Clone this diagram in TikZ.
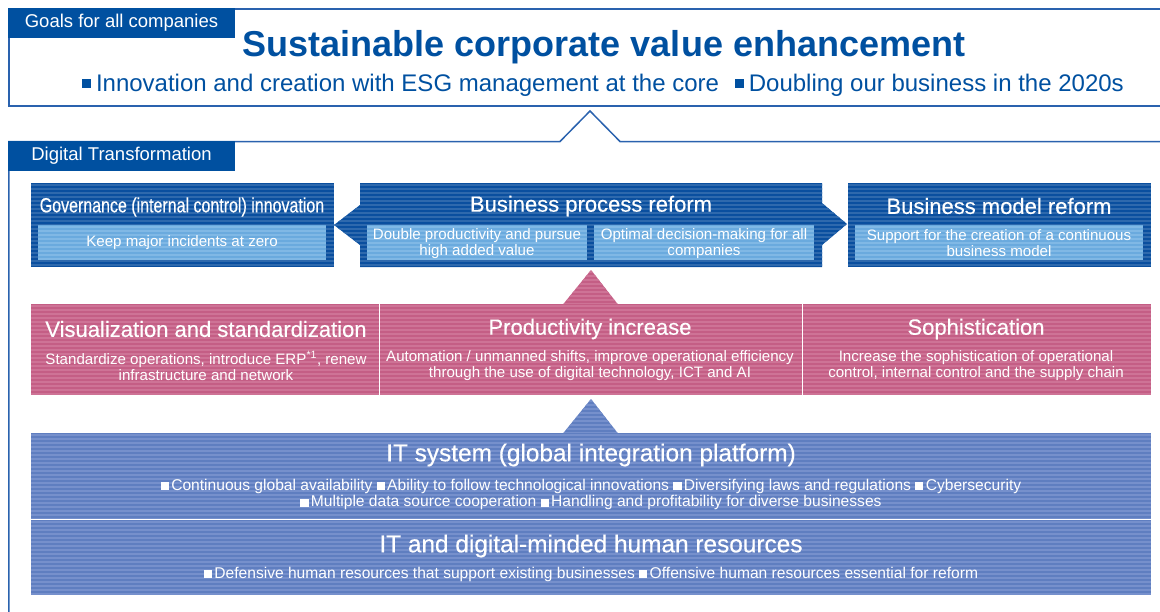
\documentclass[tikz,border=0pt]{standalone}
\usepackage{fontspec}
\setmainfont{Liberation Sans}
\newfontfamily\medfont[FakeBold=0.4]{Liberation Sans}
\usepackage{graphicx}
\definecolor{dkblue}{HTML}{0050A0}
\definecolor{frameblue}{HTML}{2A62AE}
\definecolor{boxblue}{HTML}{0A4F9F}
\definecolor{boxstripe}{HTML}{2E69AD}
\definecolor{ltblue}{HTML}{6AAADE}
\definecolor{ltstripe}{HTML}{80B8E5}
\definecolor{pinkbox}{HTML}{C45E85}
\definecolor{pinkstripe}{HTML}{CE7396}
\definecolor{itblue}{HTML}{5F7EC0}
\definecolor{itstripe}{HTML}{7690CC}
\newcommand\bsq{\rule{0.52em}{0.52em}\hspace{0.15em}}
\newcommand\gsq{\rule[3.5pt]{9pt}{9pt}\hspace{0.2em}}
\tikzset{
  stripes/.style={path picture={
    \foreach \k in {0,...,25}{
      \fill[#1] ([yshift={-(4*\k+1)*1pt}]path picture bounding box.north west)
        rectangle ([yshift={-(4*\k+3)*1pt}]path picture bounding box.north east);
    }}},
  rbox/.style={inner sep=0pt, outer sep=0pt, anchor=north west},
  darkbox/.style={rbox, fill=boxblue, stripes=boxstripe},
  lightbox/.style={rbox, fill=ltblue, stripes=ltstripe},
  pinkband/.style={rbox, fill=pinkbox, stripes=pinkstripe},
  itband/.style={rbox, fill=itblue, stripes=itstripe},
  label/.style={rbox, fill=dkblue, text=white, font=\fontsize{18.5}{22}\selectfont, minimum width=227pt, minimum height=30pt},
  frame/.style={draw=frameblue, line width=1.5pt},
  btitle/.style={text=white, font=\fontsize{22}{26}\medfont, inner sep=0pt},
  stext/.style={text=white, font=\fontsize{15.1}{16}\selectfont, align=center, inner sep=0pt},
  ittitle/.style={text=white, font=\fontsize{24.4}{28}\medfont, inner sep=0pt},
  ittext/.style={text=white, font=\fontsize{15.6}{16.5}\selectfont, align=center, inner sep=0pt},
}
\begin{document}
\begin{tikzpicture}[x=1pt,y=-1pt]
\useasboundingbox (0,0) rectangle (1160,611);
% ---- top frame
\draw[frame] (1162,8.8) -- (8.8,8.8) -- (8.8,106) -- (1162,106);
\node[label] (goals) at (8,8) {Goals for all companies};
\node[text=dkblue, font=\fontsize{36}{40}\bfseries, inner sep=0pt] (title) at (604,47) {Sustainable corporate value enhancement};
\node[text=dkblue, font=\fontsize{24}{28}\selectfont, inner sep=0pt] (goalline) at (603,85)
  {\gsq Innovation and creation with ESG management at the core\hspace{16pt}\gsq Doubling our business in the 2020s};
% ---- DX frame
\coordinate (tipL) at (560,141.5);
\coordinate (tipTop) at (590,111);
\coordinate (tipR) at (620,141.5);
\draw[frame] (1162,141.5) -- (tipR) -- (tipTop) -- (tipL) -- (8.8,141.5) -- (8.8,613);
\node[label] (dx) at (8,141) {Digital Transformation};
% ---- row 1
\node[darkbox, minimum width=303pt, minimum height=84pt] (gov) at (31,183) {};
\node[lightbox, minimum width=288pt, minimum height=35pt] (govsub) at (38,225) {};
\node[btitle, font=\fontsize{20.5}{24}\medfont] (govt) at (182,207) {\scalebox{0.78}[1]{Governance (internal control) innovation}};
\node[stext] (govs) at (182,243) {Keep major incidents at zero};

\path[fill=boxblue, stripes=boxstripe] (360,183) -- (822,183) -- (822,203) -- (847,224) -- (822,245) -- (822,267) -- (360,267) -- (360,245) -- (334,225) -- (360,205) -- cycle;
\node[lightbox, minimum width=220pt, minimum height=35pt] (bpsub1) at (367,225) {};
\node[lightbox, minimum width=220pt, minimum height=35pt] (bpsub2) at (594,225) {};
\node[btitle] (bpt) at (591,206) {Business process reform};
\node[stext] (bps1) at (477,243.5) {Double productivity and pursue\\high added value};
\node[stext] (bps2) at (704,243.5) {Optimal decision-making for all\\companies};

\node[darkbox, minimum width=303pt, minimum height=84pt] (bm) at (848,183) {};
\node[lightbox, minimum width=288pt, minimum height=35pt] (bmsub) at (855,225) {};
\node[btitle] (bmt) at (999,206) {Business model reform};
\node[stext] (bms) at (999,243.5) {Support for the creation of a continuous\\business model};
% ---- row 2
\path[fill=pinkbox, stripes=pinkstripe] (563,304.5) -- (591,270) -- (618,304.5) -- cycle;
\node[pinkband, minimum width=1120pt, minimum height=91pt] (pink) at (31,304) {};
\draw[white, line width=1pt] (379,304) -- (379,395);
\draw[white, line width=1pt] (802,304) -- (802,395);
\node[btitle] (v1) at (206,329) {Visualization and standardization};
\node[stext] (v1s) at (206,366) {Standardize operations, introduce ERP\textsuperscript{*1}, renew\\infrastructure and network};
\node[btitle] (v2) at (590,329) {Productivity increase};
\node[stext] (v2s) at (590,366) {Automation / unmanned shifts, improve operational efficiency\\through the use of digital technology, ICT and AI};
\node[btitle] (v3) at (976,329) {Sophistication};
\node[stext] (v3s) at (976,366) {Increase the sophistication of operational\\control, internal control and the supply chain};
% ---- row 3
\path[fill=itblue, stripes=itstripe] (563,433.5) -- (591,399) -- (618,433.5) -- cycle;
\node[itband, minimum width=1120pt, minimum height=85pt] (it) at (31,433) {};
\node[itband, minimum width=1120pt, minimum height=75pt] (hr) at (31,520) {};
\node[ittitle] (itt) at (591,455) {IT system (global integration platform)};
\node[ittext] (its) at (591,494.5) {\bsq Continuous global availability \bsq Ability to follow technological innovations \bsq Diversifying laws and regulations \bsq Cybersecurity\\\bsq Multiple data source cooperation \bsq Handling and profitability for diverse businesses};
\node[ittitle] (hrt) at (591,546) {IT and digital-minded human resources};
\node[ittext] (hrs) at (591,574) {\bsq Defensive human resources that support existing businesses \bsq Offensive human resources essential for reform};
\end{tikzpicture}
\end{document}
